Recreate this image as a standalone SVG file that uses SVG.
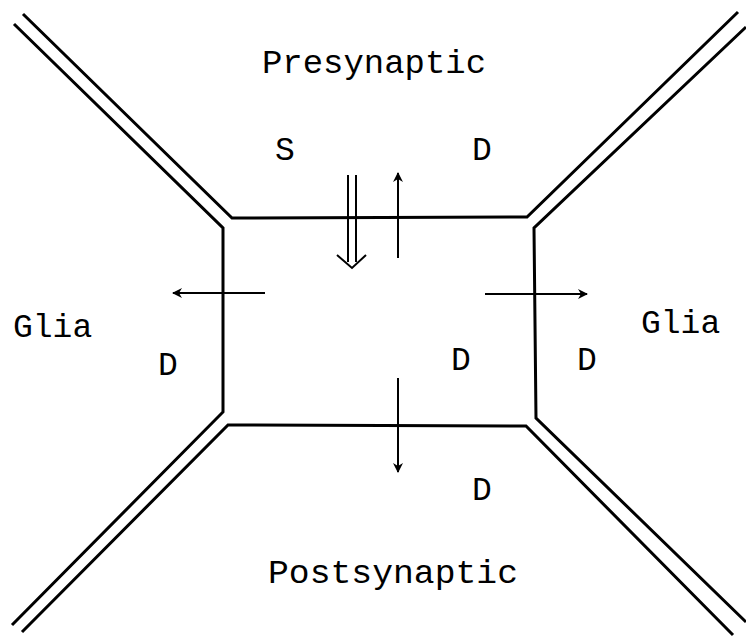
<svg xmlns="http://www.w3.org/2000/svg" width="746" height="637" viewBox="0 0 746 637">
<style>
.wall{fill:none;stroke:#000;stroke-width:3;stroke-linejoin:miter}
.arr{fill:none;stroke:#000;stroke-width:2}
text{font-family:"Liberation Mono","Courier New",monospace;font-size:33px;fill:#000}
</style>
<defs>
<marker id="ah" viewBox="0 0 10 10" refX="9" refY="5" markerWidth="5" markerHeight="5" orient="auto" markerUnits="strokeWidth">
<path d="M0,0 L10,5 L0,10 L3,5 Z" fill="#000"/>
</marker>
</defs>
<rect width="746" height="637" fill="#fff"/>
<g id="membranes">
<polyline class="wall" points="14,24 223,228 223,412 12,625"/>
<polyline class="wall" points="23,14 232,218 527,217 738,12"/>
<polyline class="wall" points="746,27 534,228 536,418 746,622"/>
<polyline class="wall" points="22,632 228,425 526,426 733,635"/>
</g>
<g id="connectors">
<line class="arr" x1="348" y1="175" x2="348" y2="262"/>
<line class="arr" x1="356" y1="175" x2="356" y2="262"/>
<polyline class="arr" points="337,255 352,268 366,255"/>
<line class="arr" x1="398" y1="258" x2="398" y2="173" marker-end="url(#ah)"/>
<line class="arr" x1="265" y1="293" x2="173" y2="293" marker-end="url(#ah)"/>
<line class="arr" x1="485" y1="294" x2="587" y2="294" marker-end="url(#ah)"/>
<line class="arr" x1="398" y1="378" x2="398" y2="472" marker-end="url(#ah)"/>
</g>
<g id="presynaptic"><text x="262" y="73" textLength="224" lengthAdjust="spacingAndGlyphs">Presynaptic</text></g>
<g id="postsynaptic"><text x="268" y="583" textLength="250" lengthAdjust="spacingAndGlyphs">Postsynaptic</text></g>
<g id="glia-left"><text x="13" y="337">Glia</text></g>
<g id="glia-right"><text x="641" y="333">Glia</text></g>
<g id="labels">
<text x="275" y="160">S</text>
<text x="472" y="160">D</text>
<text x="158" y="375">D</text>
<text x="451" y="370">D</text>
<text x="577" y="370">D</text>
<text x="472" y="500">D</text>
</g>
</svg>
